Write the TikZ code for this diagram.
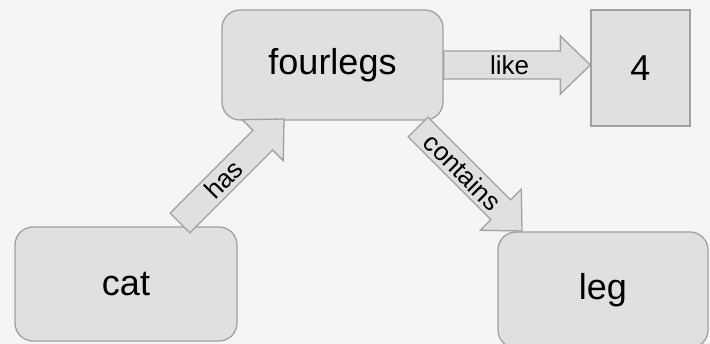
\documentclass[tikz,border=0pt]{standalone}
\usepackage{fontspec}
\setmainfont{Liberation Sans}
\usetikzlibrary{calc}
\definecolor{bg}{HTML}{F5F5F5}
\definecolor{boxfill}{HTML}{E0E0E0}
\definecolor{boxline}{HTML}{A0A0A0}
\tikzset{
  box/.style={draw=boxline, fill=boxfill, line width=1.3pt, rounded corners=18pt, inner sep=0pt, font=\fontsize{36}{40}\selectfont},
  fat/.style={draw=boxline, fill=boxfill, line width=1.3pt, line join=miter},
  lbl/.style={font=\fontsize{26}{28}\selectfont, inner sep=0pt}
}
\newcommand\fatarrow[4][0.42]{%
  \draw[fat] let \p1=($(#3)-(#2)$), \n1={atan2(\y1,\x1)}, \n2={veclen(\x1,\y1)} in
    ($(#2)+({\n1+90}:14)$) -- ++(\n1:{\n2-30}) -- ++({\n1+90}:15) -- (#3)
    -- ($(#2)+(\n1:{\n2-30})+({\n1-90}:29)$) -- ++({\n1+90}:15) -- ($(#2)+({\n1-90}:14)$) -- cycle
    ($(#2)!#1!(#3)$) node[lbl, rotate=\n1] {#4};
}
\begin{document}
\begin{tikzpicture}[x=1pt,y=1pt]
  \fill[bg] (0,0) rectangle (710,-344);
  \useasboundingbox (0,0) rectangle (710,-344);
  \node[box, minimum width=221pt, minimum height=110pt] (fourlegs) at (332.5,-65) {fourlegs};
  \node[box, rounded corners=0pt, minimum width=99pt, minimum height=116pt] (four) at (640.5,-68) {4};
  \node[box, minimum width=222pt, minimum height=114pt] (cat) at (126,-284) {cat};
  \node[box, minimum width=210pt, minimum height=116pt] (leg) at (603,-290) {leg};
  \coordinate (likeT) at (fourlegs.east);
  \coordinate (likeP) at (fourlegs.east -| four.west);
  \coordinate (hasT) at (180,-223);
  \coordinate (hasP) at (284,-119);
  \coordinate (conT) at (418,-127);
  \coordinate (conP) at (522,-231);
  \fatarrow[0.45]{likeT}{likeP}{like}
  \fatarrow{hasT}{hasP}{has}
  \fatarrow[0.43]{conT}{conP}{contains}
\end{tikzpicture}
\end{document}
